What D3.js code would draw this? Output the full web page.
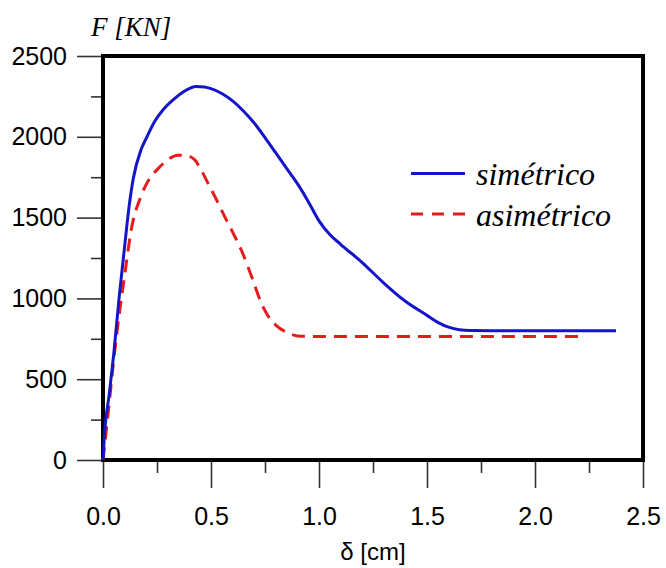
<!DOCTYPE html>
<html>
<head>
<meta charset="utf-8">
<script src="https://cdn.jsdelivr.net/npm/d3@7"></script>
<style>
  body { margin: 0; background: #fff; }
  svg { display: block; }
</style>
</head>
<body>
<svg id="chart"></svg>
<script>
// values (delta in cm, F in KN)
const simetrico = [
  [0, 0], [0.005, 120], [0.03, 420], [0.05, 660], [0.075, 1010], [0.1, 1320],
  [0.12, 1560], [0.14, 1740], [0.176, 1920], [0.2, 1990], [0.237, 2090],
  [0.28, 2170], [0.33, 2235], [0.38, 2285], [0.43, 2312], [0.47, 2308],
  [0.5, 2298], [0.55, 2268], [0.6, 2222], [0.65, 2160], [0.7, 2085],
  [0.75, 1995], [0.8, 1900], [0.85, 1805], [0.9, 1710], [0.95, 1600],
  [1.0, 1480], [1.05, 1395], [1.1, 1335], [1.2, 1222], [1.3, 1095],
  [1.4, 982], [1.5, 895], [1.55, 852], [1.6, 822], [1.65, 806],
  [1.7, 801], [1.8, 800], [2.0, 800], [2.2, 800], [2.375, 800]
];
const asimetrico = [
  [0, 0], [0.02, 240], [0.05, 620], [0.075, 900], [0.1, 1140], [0.13, 1420],
  [0.176, 1633], [0.21, 1730], [0.253, 1800], [0.3, 1858], [0.346, 1886],
  [0.385, 1884], [0.423, 1860], [0.45, 1805], [0.485, 1716], [0.52, 1625],
  [0.56, 1515], [0.6, 1410], [0.64, 1300], [0.67, 1200], [0.7, 1090],
  [0.73, 980], [0.76, 900], [0.8, 835], [0.85, 790], [0.9, 768],
  [0.95, 765], [1.2, 765], [1.6, 765], [2.0, 765], [2.21, 765]
];
const seriesNames = ['simétrico', 'asimétrico'];
const xTicks = [0, 0.5, 1.0, 1.5, 2.0, 2.5];
const xMinorTicks = [0.25, 0.75, 1.25, 1.75, 2.25];
const yTicks = [0, 500, 1000, 1500, 2000, 2500];
const yMinorTicks = [250, 750, 1250, 1750, 2250];

const width = 666;
const height = 568;
const margin = { top: 56, right: 23, bottom: 108, left: 103 };
const blue = '#1414c8';
const red = '#e41c1c';

const svg = d3.select('#chart').attr('width', width).attr('height', height);

const x = d3.scaleLinear().domain([0, 2.5]).range([margin.left, width - margin.right]);
const y = d3.scaleLinear().domain([0, 2500]).range([height - margin.bottom, margin.top]);

// minor ticks first (no labels)
svg.append('g')
  .attr('transform', `translate(${margin.left},0)`)
  .call(d3.axisLeft(y).tickValues(yMinorTicks).tickSize(12).tickFormat(''));
svg.append('g')
  .attr('transform', `translate(0,${y(0)})`)
  .call(d3.axisBottom(x).tickValues(xMinorTicks).tickSize(13).tickFormat(''));

// major ticks with labels
svg.append('g')
  .attr('class', 'yaxis')
  .attr('transform', `translate(${margin.left},0)`)
  .call(d3.axisLeft(y).tickValues(yTicks).tickSize(26).tickPadding(10).tickFormat(d3.format('d')));
svg.append('g')
  .attr('class', 'xaxis')
  .attr('transform', `translate(0,${y(0)})`)
  .call(d3.axisBottom(x).tickValues(xTicks).tickSize(28).tickPadding(19).tickFormat(d3.format('.1f')));

svg.selectAll('.domain').remove();
svg.selectAll('.tick line').attr('stroke', '#333').attr('stroke-width', 1.6);
svg.selectAll('.yaxis text, .xaxis text')
  .attr('fill', '#000')
  .attr('font-family', 'Liberation Sans, Arial, sans-serif')
  .attr('font-size', 25);

// frame
svg.append('rect')
  .attr('x', x(0))
  .attr('y', y(2500))
  .attr('width', x(2.5) - x(0))
  .attr('height', y(0) - y(2500))
  .attr('fill', 'none')
  .attr('stroke', '#000')
  .attr('stroke-width', 4);

const line = d3.line().x((d) => x(d[0])).y((d) => y(d[1])).curve(d3.curveMonotoneX);

svg.append('path')
  .datum(asimetrico)
  .attr('d', line)
  .attr('fill', 'none')
  .attr('stroke', red)
  .attr('stroke-width', 3)
  .attr('stroke-dasharray', '13,8');

svg.append('path')
  .datum(simetrico)
  .attr('d', line)
  .attr('fill', 'none')
  .attr('stroke', blue)
  .attr('stroke-width', 3);

// axis titles
svg.append('text')
  .attr('x', 91)
  .attr('y', 36)
  .attr('font-family', 'Liberation Serif, Times New Roman, serif')
  .attr('font-style', 'italic')
  .attr('font-size', 27)
  .text('F [KN]');

svg.append('text')
  .attr('x', 373)
  .attr('y', 560)
  .attr('text-anchor', 'middle')
  .attr('font-family', 'Liberation Sans, Arial, sans-serif')
  .attr('font-size', 24)
  .text('δ [cm]');

// legend
const legend = svg.append('g');
const legendRows = [
  { name: seriesNames[0], color: blue, dash: null, ly: 173.5 },
  { name: seriesNames[1], color: red, dash: '12,9', ly: 214 }
];
legendRows.forEach((r) => {
  legend.append('line')
    .attr('x1', 411).attr('x2', 465)
    .attr('y1', r.ly).attr('y2', r.ly)
    .attr('stroke', r.color)
    .attr('stroke-width', 3)
    .attr('stroke-dasharray', r.dash);
  legend.append('text')
    .attr('x', 476)
    .attr('y', r.ly + 11.5)
    .attr('font-family', 'Liberation Serif, Times New Roman, serif')
    .attr('font-style', 'italic')
    .attr('font-size', 32)
    .text(r.name);
});
</script>
</body>
</html>
